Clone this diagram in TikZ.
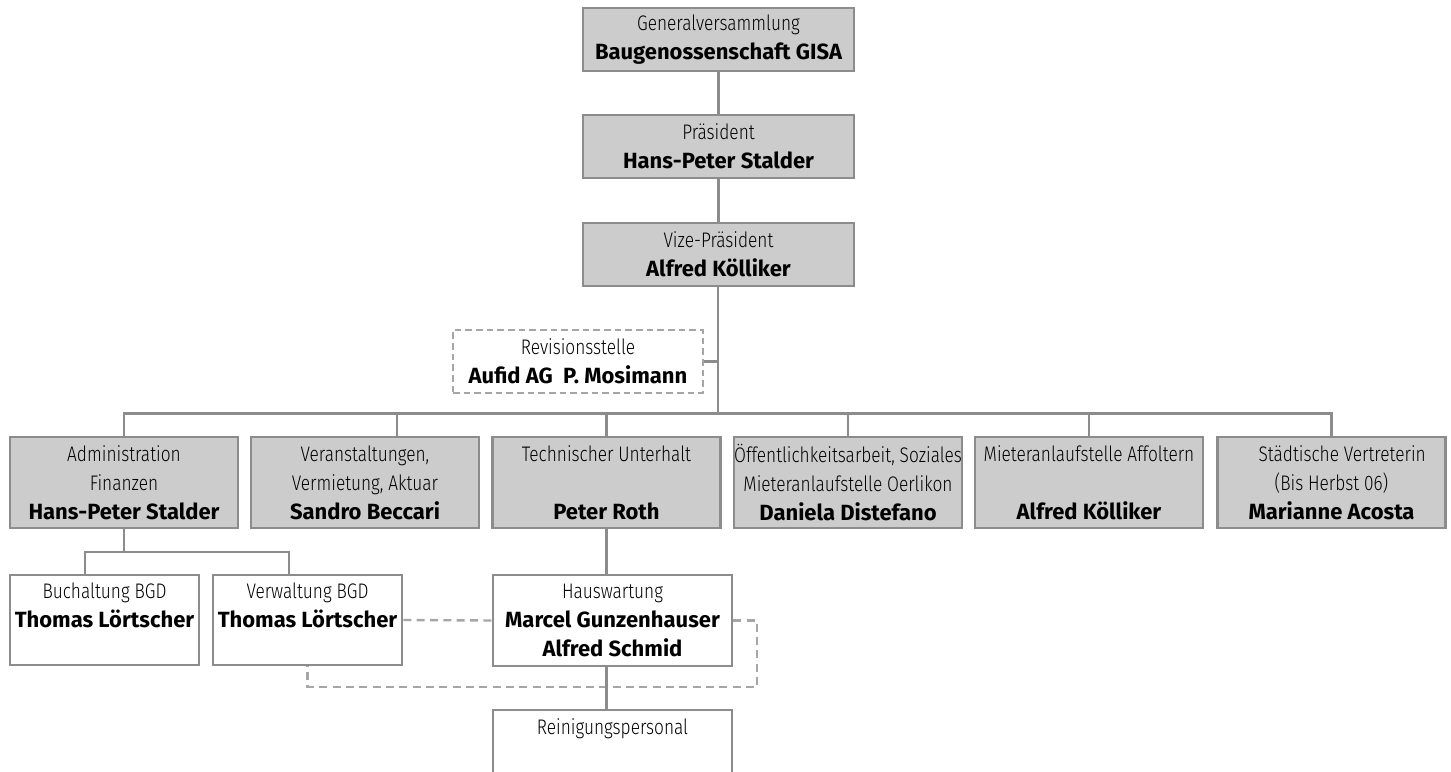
\documentclass[tikz,border=0pt]{standalone}
\usepackage{fontspec}
\setmainfont{Fira Sans}
\newfontfamily\lightfont{Fira Sans Light}[FakeStretch=0.82]
\newfontfamily\namefont{Fira Sans}
\newcommand\nm[1]{{\namefont\bfseries\fontsize{16.5}{21.75}\selectfont #1}}
\definecolor{boxgray}{HTML}{CCCCCC}
\definecolor{linegray}{HTML}{8C8C8C}
\definecolor{dashgray}{HTML}{A6A6A6}
\tikzset{
  orgbox/.style={draw=linegray, fill=boxgray, line width=2pt, inner sep=0pt,
    align=center, minimum width=171pt, minimum height=68.25pt,
    font=\lightfont\fontsize{15.8}{21.75}\selectfont},
  topbox/.style={orgbox, minimum width=203.25pt, minimum height=47.25pt},
  revbox/.style={orgbox, fill=white, draw=dashgray, dash pattern=on 5pt off 3pt,
    minimum width=187.5pt, minimum height=47.25pt},
  subbox/.style={orgbox, fill=white, minimum width=141.75pt, minimum height=67.5pt},
  hausbox/.style={orgbox, fill=white, minimum width=179.25pt},
  conn/.style={draw=linegray, line width=1.8pt},
  dconn/.style={draw=dashgray, line width=1.8pt, dash pattern=on 6pt off 4pt}
}
\begin{document}
\begin{tikzpicture}[x=0.75pt,y=-0.75pt]
  \useasboundingbox (0,0) rectangle (1451,771);

  % board
  \node[topbox] (gv) at (718.5,39.5) {Generalversammlung\\\nm{Baugenossenschaft GISA}};
  \node[topbox] (pres) at (718.5,146.5) {Präsident\\\nm{Hans-Peter Stalder}};
  \node[topbox] (vp) at (718.5,254.5) {Vize-Präsident\\\nm{Alfred Kölliker}};
  \node[revbox] (rev) at (578,361.5) {Revisionsstelle\\\nm{Aufid AG\ \ P. Mosimann}};

  % departments
  \node[orgbox] (adm) at (124,482.5) {Administration\\Finanzen\\\nm{Hans-Peter Stalder}};
  \node[orgbox] (ver) at (365,482.5) {Veranstaltungen,\\Vermietung, Aktuar\\\nm{Sandro Beccari}};
  \node[orgbox] (tech) at (606.5,482.5) {Technischer Unterhalt\\~\\\nm{Peter Roth}};
  \node[orgbox] (oef) at (848,482.5) {Öffentlichkeitsarbeit, Soziales\\Mieteranlaufstelle Oerlikon\\\nm{Daniela Distefano}};
  \node[orgbox] (aff) at (1089,482.5) {Mieteranlaufstelle Affoltern\\~\\\nm{Alfred Kölliker}};
  \node[orgbox] (sta) at (1331.5,482.5) {\hspace*{16pt}Städtische Vertreterin\\(Bis Herbst 06)\\\nm{Marianne Acosta}};

  % staff
  \node[subbox] (buch) at (104.5,620) {Buchaltung BGD\\\nm{Thomas Lörtscher}\\~};
  \node[subbox] (verw) at (307.5,620) {Verwaltung BGD\\\nm{Thomas Lörtscher}\\~};
  \node[hausbox] (haus) at (612.5,620.5) {Hauswartung\\\nm{Marcel Gunzenhauser}\\\nm{Alfred Schmid}};
  \node[hausbox] (rein) at (612.5,755.5) {Reinigungspersonal\\~\\~};

  \coordinate (busm) at (718,415);
  \coordinate (verdrop) at (397,415);
  \coordinate (subl) at (85,552);
  \coordinate (subr) at (289,552);
  \coordinate (dloop) at (757,687);

  \draw[conn] (gv) -- (pres);
  \draw[conn] (pres) -- (vp);
  \draw[conn] (vp.south -| busm) -- (busm);
  \draw[conn] (rev.east) -- (rev.east -| busm);
  \draw[conn] (adm.north) -- ++(0,-22) -| (sta.north);
  \foreach \n in {tech,oef,aff}
    \draw[conn] (\n.north) -- (\n.north |- busm);
  \draw[conn] (verdrop) -- (verdrop |- ver.north);

  \draw[conn] (adm.south) -- (adm.south |- subl);
  \draw[conn] (subl |- buch.north) -- (subl) -- (subr) -- (subr |- verw.north);

  % dashed links
  \draw[dconn] (verw.east) -- (haus.west);
  \draw[dconn] (haus.east) -| (dloop) -| (verw.south);

  \draw[conn] (tech.south) -- (tech.south |- haus.north);
  \draw[conn] (haus.south -| tech.south) -- (tech.south |- rein.north);
\end{tikzpicture}
\end{document}
